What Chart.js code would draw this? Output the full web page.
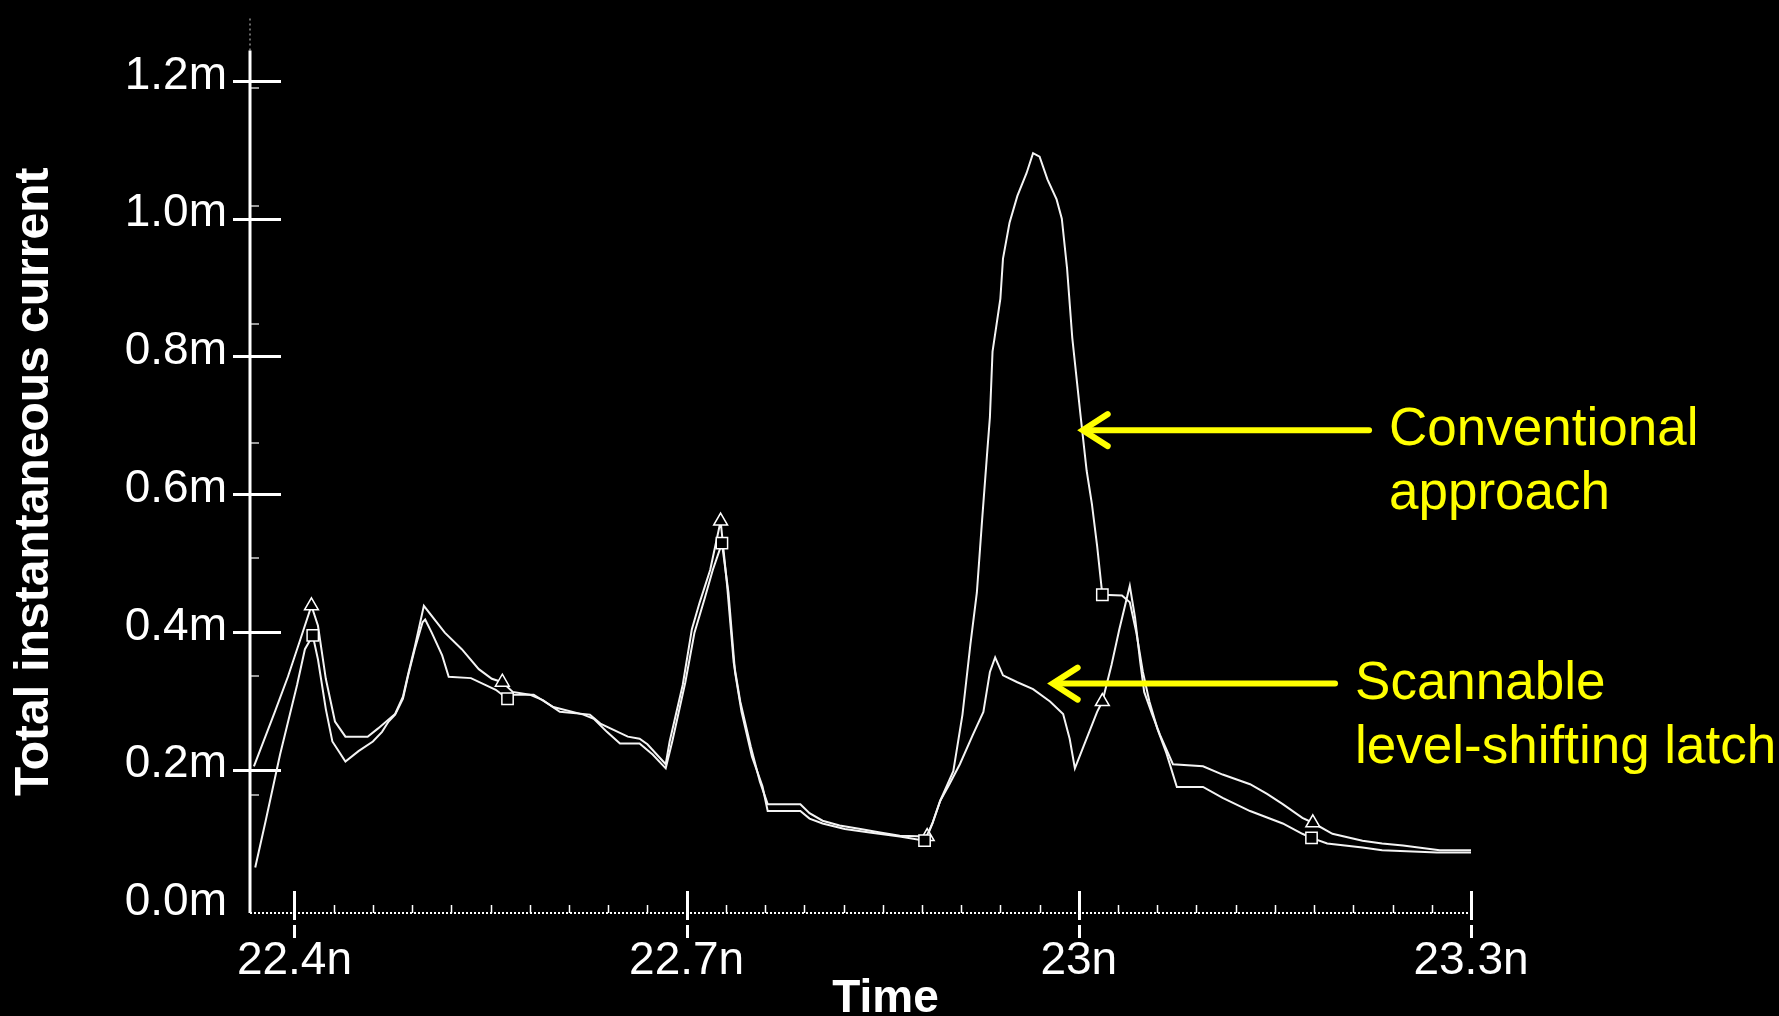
<!DOCTYPE html>
<html>
<head>
<meta charset="utf-8">
<title>Total instantaneous current</title>
<script src="https://cdn.jsdelivr.net/npm/chart.js@4/dist/chart.umd.min.js"></script>
<style>
  html, body { margin: 0; padding: 0; background: #000; }
  #wrap { position: relative; width: 1779px; height: 1016px; background: #000; }
</style>
</head>
<body>
<div id="wrap"><canvas id="chart"></canvas></div>
<script>
// Simulated supply current (mA, shown with "m" suffix) against time (ns, "n" suffix)
const scannableTime = [22.369, 22.385, 22.395, 22.405, 22.413, 22.418, 22.424, 22.431, 22.439, 22.456,
  22.464, 22.477, 22.483, 22.487, 22.492, 22.499, 22.515, 22.528, 22.541, 22.551,
  22.559, 22.567, 22.580, 22.590, 22.603, 22.626, 22.634, 22.655, 22.664, 22.670,
  22.684, 22.687, 22.697, 22.704, 22.710, 22.718, 22.726, 22.731, 22.736, 22.741,
  22.749, 22.756, 22.762, 22.787, 22.794, 22.804, 22.817, 22.833, 22.848, 22.863,
  22.884, 22.888, 22.894, 22.901, 22.909, 22.919, 22.927, 22.932, 22.936, 22.942,
  22.953, 22.965, 22.978, 22.988, 22.993, 22.997, 23.003, 23.014, 23.018, 23.025,
  23.031, 23.039, 23.043, 23.047, 23.050, 23.056, 23.062, 23.072, 23.095, 23.110,
  23.131, 23.144, 23.156, 23.171, 23.179, 23.194, 23.217, 23.232, 23.248, 23.276, 23.300];
const scannableCurrent = [0.205, 0.284, 0.335, 0.392, 0.438, 0.409, 0.332, 0.270, 0.248, 0.248,
  0.260, 0.281, 0.306, 0.339, 0.378, 0.438, 0.399, 0.375, 0.346, 0.332,
  0.327, 0.313, 0.309, 0.301, 0.284, 0.280, 0.267, 0.248, 0.245, 0.237,
  0.208, 0.241, 0.323, 0.404, 0.443, 0.490, 0.561, 0.467, 0.356, 0.299,
  0.234, 0.183, 0.150, 0.150, 0.137, 0.126, 0.119, 0.114, 0.109, 0.104,
  0.103, 0.122, 0.155, 0.179, 0.208, 0.251, 0.284, 0.342, 0.363, 0.337,
  0.327, 0.317, 0.299, 0.281, 0.245, 0.202, 0.231, 0.284, 0.299, 0.352,
  0.404, 0.467, 0.421, 0.356, 0.313, 0.281, 0.251, 0.208, 0.205, 0.193,
  0.179, 0.165, 0.150, 0.130, 0.123, 0.107, 0.097, 0.093, 0.090, 0.083, 0.083];
const scannableMarkerTimes = [22.413, 22.559, 22.726, 22.884, 23.018, 23.179];

const conventionalTime = [22.370, 22.378, 22.389, 22.402, 22.408, 22.414, 22.418, 22.424, 22.429, 22.439,
  22.449, 22.460, 22.467, 22.472, 22.477, 22.483, 22.487, 22.492, 22.498, 22.500,
  22.505, 22.513, 22.518, 22.535, 22.554, 22.563, 22.567, 22.583, 22.598, 22.621,
  22.629, 22.639, 22.649, 22.664, 22.674, 22.684, 22.689, 22.699, 22.706, 22.714,
  22.720, 22.727, 22.732, 22.737, 22.742, 22.750, 22.758, 22.762, 22.787, 22.794,
  22.804, 22.821, 22.840, 22.863, 22.882, 22.888, 22.894, 22.904, 22.911, 22.917,
  22.922, 22.926, 22.930, 22.932, 22.934, 22.940, 22.942, 22.947, 22.953, 22.960,
  22.965, 22.970, 22.976, 22.983, 22.987, 22.991, 22.995, 23.001, 23.006, 23.010,
  23.014, 23.018, 23.033, 23.039, 23.044, 23.049, 23.054, 23.060, 23.067, 23.075,
  23.095, 23.110, 23.131, 23.156, 23.171, 23.178, 23.190, 23.217, 23.232, 23.274, 23.300];
const conventionalCurrent = [0.058, 0.126, 0.222, 0.323, 0.375, 0.395, 0.360, 0.288, 0.241, 0.212,
  0.227, 0.241, 0.255, 0.270, 0.280, 0.303, 0.337, 0.375, 0.414, 0.418,
  0.399, 0.366, 0.335, 0.333, 0.316, 0.303, 0.309, 0.309, 0.291, 0.280,
  0.274, 0.255, 0.238, 0.238, 0.222, 0.202, 0.241, 0.327, 0.399, 0.450,
  0.490, 0.529, 0.457, 0.342, 0.284, 0.219, 0.176, 0.140, 0.140, 0.129,
  0.122, 0.114, 0.109, 0.103, 0.097, 0.122, 0.155, 0.198, 0.280, 0.381,
  0.457, 0.562, 0.663, 0.712, 0.807, 0.884, 0.942, 0.994, 1.033, 1.066,
  1.095, 1.090, 1.057, 1.028, 1.000, 0.928, 0.827, 0.720, 0.634, 0.586,
  0.525, 0.454, 0.453, 0.443, 0.399, 0.342, 0.299, 0.260, 0.224, 0.175,
  0.175, 0.159, 0.140, 0.122, 0.107, 0.101, 0.093, 0.087, 0.083, 0.080, 0.080];
const conventionalMarkerTimes = [22.414, 22.563, 22.727, 22.882, 23.018, 23.178];

const timeTicks = [22.4, 22.7, 23.0, 23.3];
const timeTickLabels = ['22.4n', '22.7n', '23n', '23.3n'];
const timeMinorStep = 0.03;
const currentTicks = [0, 0.2, 0.4, 0.6, 0.8, 1.0, 1.2];
const currentTickLabels = ['0.0m', '0.2m', '0.4m', '0.6m', '0.8m', '1.0m', '1.2m'];
const currentMinorTicks = [0.163, 0.336, 0.507, 0.674, 0.847, 1.018, 1.190];
const timeRange = [22.366, 23.3];
const currentRange = [-0.008, 1.244];
const timeAxisTitle = 'Time';

// Callout arrows: tip sits on the curve, tail on the label side
const calloutLabels = [['Conventional', 'approach'], ['Scannable', 'level-shifting latch']];
const calloutTipTime = [23.003, 22.980];
const calloutTipCurrent = [0.693, 0.325];
const calloutTailTime = [23.222, 23.196];

const FONT = "'Liberation Sans', Arial, Helvetica, sans-serif";
Chart.defaults.font.family = FONT;

const axisDecor = {
  id: 'axisDecor',
  beforeDatasetsDraw(chart) {
    const { ctx, chartArea: a, scales: { x, y } } = chart;
    ctx.save();
    ctx.lineCap = 'butt';
    // dotted stub above the vertical axis
    ctx.strokeStyle = 'rgba(255,255,255,0.55)';
    ctx.lineWidth = 1.5;
    ctx.setLineDash([2, 3]);
    ctx.beginPath(); ctx.moveTo(a.left, a.top); ctx.lineTo(a.left, a.top - 33); ctx.stroke();
    // dotted horizontal axis
    ctx.strokeStyle = '#fff';
    ctx.lineWidth = 2;
    ctx.setLineDash([2, 2]);
    ctx.beginPath(); ctx.moveTo(a.left, a.bottom); ctx.lineTo(a.right, a.bottom); ctx.stroke();
    ctx.setLineDash([]);
    // vertical axis
    ctx.lineWidth = 3;
    ctx.beginPath(); ctx.moveTo(a.left, a.top); ctx.lineTo(a.left, a.bottom); ctx.stroke();
    // major current ticks crossing the axis
    currentTicks.forEach(v => {
      if (v === 0) return;
      const py = Math.round(y.getPixelForValue(v)) + 0.5;
      ctx.beginPath(); ctx.moveTo(a.left - 17, py); ctx.lineTo(a.left + 31, py); ctx.stroke();
    });
    // faint minor current ticks
    ctx.strokeStyle = 'rgba(255,255,255,0.6)';
    ctx.lineWidth = 2;
    currentMinorTicks.forEach(v => {
      const py = Math.round(y.getPixelForValue(v));
      ctx.beginPath(); ctx.moveTo(a.left, py); ctx.lineTo(a.left + 9, py); ctx.stroke();
    });
    // minor time ticks
    ctx.strokeStyle = '#fff';
    ctx.lineWidth = 1.5;
    for (let i = 0; i < timeTicks.length - 1; i++) {
      for (let k = 1; k < 10; k++) {
        const px = Math.round(x.getPixelForValue(timeTicks[i] + k * timeMinorStep)) + 0.5;
        ctx.beginPath(); ctx.moveTo(px, a.bottom); ctx.lineTo(px, a.bottom - 8); ctx.stroke();
      }
    }
    // major time ticks, broken where they cross the axis
    ctx.lineWidth = 3;
    timeTicks.forEach(v => {
      const px = Math.round(x.getPixelForValue(v)) + 0.5;
      ctx.beginPath();
      ctx.moveTo(px, a.bottom - 22); ctx.lineTo(px, a.bottom + 7);
      ctx.moveTo(px, a.bottom + 12); ctx.lineTo(px, a.bottom + 25);
      ctx.stroke();
    });
    // horizontal axis title, set a little right of the plot centre
    ctx.fillStyle = '#fff';
    ctx.font = 'bold 46px ' + FONT;
    ctx.textAlign = 'center';
    ctx.textBaseline = 'alphabetic';
    ctx.fillText(timeAxisTitle, (a.left + a.right) / 2 + 25, chart.height - 4);
    ctx.restore();
  }
};

const callouts = {
  id: 'callouts',
  afterDatasetsDraw(chart) {
    const { ctx, scales: { x, y } } = chart;
    ctx.save();
    ctx.strokeStyle = '#ffff00';
    ctx.fillStyle = '#ffff00';
    ctx.lineWidth = 6;
    ctx.lineCap = 'round';
    ctx.lineJoin = 'miter';
    ctx.font = '53px ' + FONT;
    ctx.textAlign = 'left';
    ctx.textBaseline = 'alphabetic';
    calloutLabels.forEach((lines, i) => {
      const tx = x.getPixelForValue(calloutTipTime[i]);
      const ty = y.getPixelForValue(calloutTipCurrent[i]);
      const tail = x.getPixelForValue(calloutTailTime[i]);
      ctx.beginPath(); ctx.moveTo(tail, ty); ctx.lineTo(tx + 3, ty); ctx.stroke();
      ctx.beginPath();
      ctx.moveTo(tx + 25, ty - 16); ctx.lineTo(tx, ty); ctx.lineTo(tx + 25, ty + 16);
      ctx.stroke();
      lines.forEach((t, j) => ctx.fillText(t, tail + 20, ty + 15 + 64 * j));
    });
    ctx.restore();
  }
};

function series(times, values) {
  return times.map((t, i) => ({ x: t, y: values[i] }));
}

function markerRadius(times, marks, r) {
  return c => (marks.includes(times[c.dataIndex]) ? r : 0);
}

new Chart(document.getElementById('chart'), {
  type: 'line',
  data: {
    datasets: [
      {
        label: 'Conventional approach',
        data: series(conventionalTime, conventionalCurrent),
        borderColor: '#f4f4f4',
        borderWidth: 2,
        tension: 0,
        pointStyle: 'rect',
        pointRadius: markerRadius(conventionalTime, conventionalMarkerTimes, 8),
        pointHoverRadius: 0,
        pointBackgroundColor: '#000',
        pointBorderColor: '#fff',
        pointBorderWidth: 1.5
      },
      {
        label: 'Scannable level-shifting latch',
        data: series(scannableTime, scannableCurrent),
        borderColor: '#f4f4f4',
        borderWidth: 2,
        tension: 0,
        pointStyle: 'triangle',
        pointRadius: markerRadius(scannableTime, scannableMarkerTimes, 8),
        pointHoverRadius: 0,
        pointBackgroundColor: '#000',
        pointBorderColor: '#fff',
        pointBorderWidth: 1.5
      }
    ]
  },
  options: {
    responsive: true,
    maintainAspectRatio: false,
    animation: false,
    events: [],
    layout: { padding: { left: 0, top: 43, right: 308, bottom: 0 } },
    plugins: { legend: { display: false }, tooltip: { enabled: false } },
    scales: {
      x: {
        type: 'linear',
        min: timeRange[0],
        max: timeRange[1],
        afterBuildTicks: s => { s.ticks = timeTicks.map(v => ({ value: v })); },
        afterFit: s => { s.height = 103; },
        grid: { display: false, drawTicks: false },
        border: { display: false },
        ticks: {
          color: '#fff',
          font: { size: 46 },
          padding: 21,
          maxRotation: 0,
          autoSkip: false,
          callback: (v, i) => timeTickLabels[i]
        },
        title: { display: false }
      },
      y: {
        type: 'linear',
        min: currentRange[0],
        max: currentRange[1],
        afterBuildTicks: s => { s.ticks = currentTicks.map(v => ({ value: v })); },
        afterFit: s => { s.width = 250; },
        grid: { display: false, drawTicks: false },
        border: { display: false },
        ticks: {
          color: '#fff',
          font: { size: 46 },
          padding: 23,
          labelOffset: -5,
          callback: (v, i) => currentTickLabels[i]
        },
        title: {
          display: true,
          text: 'Total instantaneous current',
          color: '#fff',
          font: { size: 48, weight: 'bold' },
          padding: { top: 6, bottom: 0 }
        }
      }
    }
  },
  plugins: [axisDecor, callouts]
});
</script>
</body>
</html>
